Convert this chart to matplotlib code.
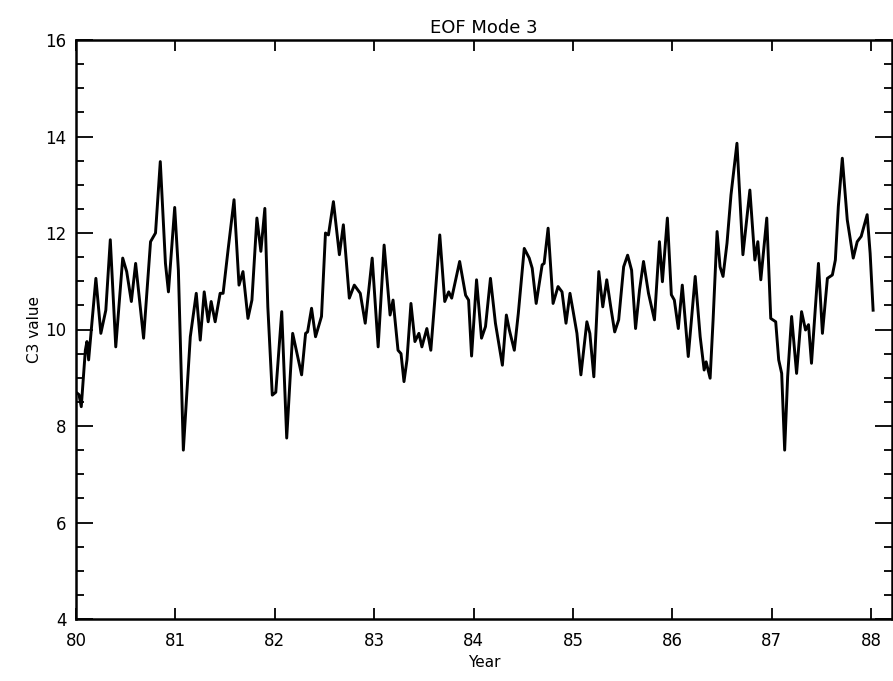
import matplotlib
matplotlib.use("Agg")
import matplotlib.pyplot as plt
from matplotlib.ticker import MultipleLocator


# values (year, C3 value)
years = [
    80.00, 80.03, 80.053, 80.094, 80.11, 80.127, 80.20, 80.25, 80.30, 80.345,
    80.40, 80.47, 80.51, 80.557, 80.60, 80.68, 80.75, 80.80, 80.848, 80.90,
    80.93, 80.993, 81.03, 81.08, 81.15, 81.21, 81.25, 81.29, 81.33, 81.36,
    81.40, 81.45, 81.48, 81.53, 81.59, 81.64, 81.68, 81.73, 81.77, 81.82,
    81.86, 81.90, 81.93, 81.975, 82.01, 82.07, 82.12, 82.18, 82.27, 82.31,
    82.33, 82.37, 82.41, 82.47, 82.51, 82.54, 82.59, 82.65, 82.69, 82.75,
    82.80, 82.86, 82.91, 82.98, 83.04, 83.10, 83.16, 83.19, 83.24, 83.27,
    83.30, 83.33, 83.37, 83.41, 83.45, 83.48, 83.53, 83.57, 83.61, 83.66,
    83.71, 83.75, 83.78, 83.86, 83.92, 83.95, 83.98, 84.03, 84.08, 84.12,
    84.17, 84.22, 84.29, 84.33, 84.36, 84.41, 84.45, 84.51, 84.56, 84.59,
    84.63, 84.69, 84.71, 84.75, 84.80, 84.85, 84.89, 84.93, 84.97, 85.00,
    85.04, 85.08, 85.14, 85.17, 85.21, 85.26, 85.30, 85.34, 85.38, 85.42,
    85.46, 85.51, 85.55, 85.59, 85.63, 85.67, 85.71, 85.76, 85.82, 85.85,
    85.87, 85.90, 85.95, 85.99, 86.02, 86.06, 86.10, 86.16, 86.23, 86.28,
    86.32, 86.34, 86.38, 86.41, 86.45, 86.48, 86.51, 86.55, 86.59, 86.65,
    86.71, 86.78, 86.83, 86.86, 86.89, 86.95, 86.99, 87.04, 87.07, 87.10,
    87.13, 87.16, 87.20, 87.25, 87.30, 87.34, 87.37, 87.40, 87.44, 87.47,
    87.51, 87.56, 87.61, 87.64, 87.67, 87.71, 87.76, 87.82, 87.86, 87.90,
    87.96, 87.99, 88.02,
]
c3_values = [
    8.70, 8.65, 8.40, 9.57, 9.75, 9.37, 11.06, 9.92, 10.40, 11.86,
    9.64, 11.48, 11.20, 10.58, 11.37, 9.82, 11.82, 12.00, 13.48, 11.37,
    10.78, 12.53, 11.23, 7.50, 9.85, 10.75, 9.78, 10.78, 10.16, 10.58,
    10.16, 10.75, 10.75, 11.65, 12.69, 10.92, 11.20, 10.23, 10.61, 12.31,
    11.62, 12.51, 10.47, 8.64, 8.70, 10.37, 7.75, 9.92, 9.06, 9.92,
    9.95, 10.44, 9.85, 10.27, 12.00, 11.96, 12.65, 11.55, 12.17, 10.65,
    10.92, 10.75, 10.13, 11.48, 9.64, 11.75, 10.30, 10.61, 9.57, 9.50,
    8.92, 9.37, 10.54, 9.75, 9.92, 9.64, 10.02, 9.57, 10.61, 11.96,
    10.58, 10.78, 10.65, 11.41, 10.71, 10.61, 9.45, 11.03, 9.82, 10.06,
    11.06, 10.13, 9.26, 10.30, 9.99, 9.57, 10.33, 11.68, 11.48, 11.27,
    10.54, 11.34, 11.37, 12.10, 10.54, 10.89, 10.78, 10.13, 10.75, 10.40,
    9.92, 9.06, 10.16, 9.92, 9.02, 11.20, 10.47, 11.03, 10.47, 9.95,
    10.20, 11.30, 11.54, 11.23, 10.02, 10.82, 11.41, 10.75, 10.20, 11.17,
    11.82, 10.99, 12.31, 10.72, 10.61, 10.02, 10.92, 9.44, 11.10, 9.85,
    9.16, 9.33, 8.99, 10.20, 12.03, 11.30, 11.10, 11.79, 12.79, 13.86,
    11.55, 12.89, 11.44, 11.82, 11.03, 12.31, 10.23, 10.16, 9.37, 9.09,
    7.50, 9.02, 10.27, 9.09, 10.37, 9.99, 10.10, 9.30, 10.47, 11.37,
    9.92, 11.06, 11.13, 11.44, 12.55, 13.55, 12.27, 11.48, 11.82, 11.93,
    12.38, 11.58, 10.40,
]
year_ticks = [80, 81, 82, 83, 84, 85, 86, 87, 88]

fig = plt.figure(figsize=(8.93, 6.81), dpi=100)
ax = fig.add_axes([76 / 893, 62 / 681, 816 / 893, 579 / 681])

ax.plot(years, c3_values, color="black", linewidth=2.1)

ax.set_xlim(80, 88.21)
ax.set_ylim(4, 16)
ax.set_xticks(year_ticks)
ax.set_xticklabels([str(y) for y in year_ticks])
ax.yaxis.set_major_locator(MultipleLocator(2))
ax.yaxis.set_minor_locator(MultipleLocator(0.5))

ax.tick_params(axis="x", which="major", direction="in", top=True, bottom=True,
               length=8, width=1.3, pad=9, labelsize=12)
ax.tick_params(axis="y", which="major", direction="in", left=True, right=True,
               length=12, width=1.3, pad=7, labelsize=12)
ax.tick_params(axis="y", which="minor", direction="in", left=True, right=True,
               length=6, width=1.3)
for lbl in ax.get_xticklabels() + ax.get_yticklabels():
    lbl.set_fontweight("medium")

for s in ax.spines.values():
    s.set_linewidth(1.8)

ax.set_title("EOF Mode 3", fontsize=13, pad=5)
ax.set_xlabel("Year", fontsize=11, labelpad=4)
ax.set_ylabel("C3 value", fontsize=11, labelpad=2)

fig.savefig("out.png", dpi=100)
